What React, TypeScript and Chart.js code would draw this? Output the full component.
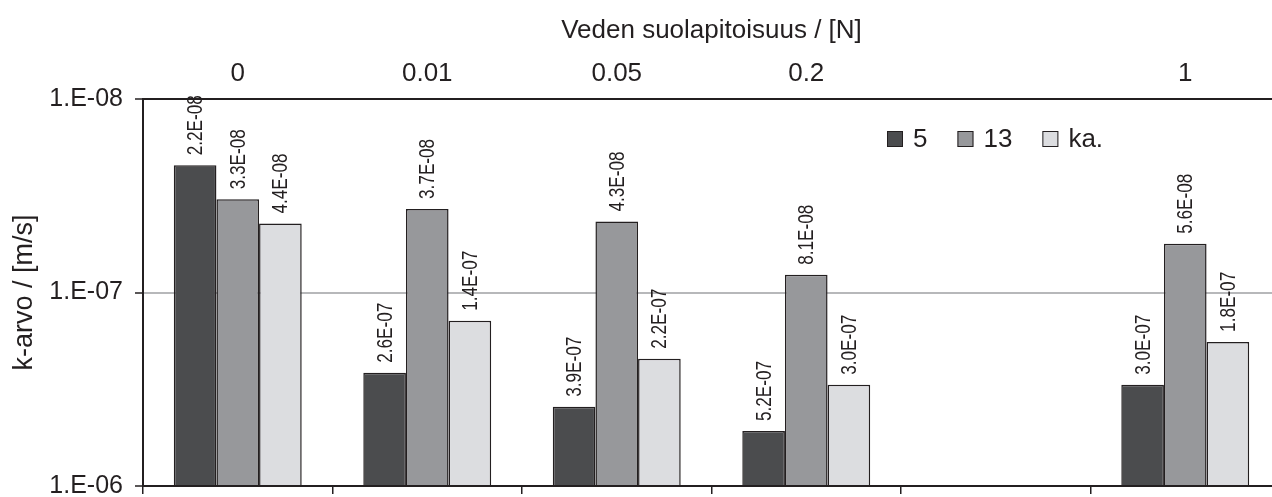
import { useEffect, useRef } from 'react';
import { Chart, registerables } from 'chart.js';

Chart.register(...registerables);

// Salt concentration of the water (N); the fifth slot is an empty gap on the axis
const categories = ['0', '0.01', '0.05', '0.2', '', '1'];
const seriesNames = ['5', '13', 'ka.'];
const values5 = [2.2e-8, 2.6e-7, 3.9e-7, 5.2e-7, null, 3.0e-7];
const values13 = [3.3e-8, 3.7e-8, 4.3e-8, 8.1e-8, null, 5.6e-8];
const valuesKa = [4.4e-8, 1.4e-7, 2.2e-7, 3.0e-7, null, 1.8e-7];
const yTickValues = [1e-8, 1e-7, 1e-6];

const seriesColors = ['#4b4c4e', '#97989b', '#dcdde0'];
const INK = '#231f20';
const FONT = '"Liberation Sans", Arial, Helvetica, sans-serif';

function expPart(e: string) {
  const n = parseInt(e, 10);
  return `${n < 0 ? '-' : '+'}${String(Math.abs(n)).padStart(2, '0')}`;
}

// 2.2E-08 style value labels
function fmtValue(v: number) {
  const [m, e] = v.toExponential(1).split('e');
  return `${m}E${expPart(e)}`;
}

// 1.E-08 style axis labels
function fmtTick(v: number) {
  const [m, e] = v.toExponential(0).split('e');
  return `${m}.E${expPart(e)}`;
}

// Rotated, narrow value labels above each bar
const valueLabels = {
  id: 'valueLabels',
  afterDatasetsDraw(chart: any) {
    const ctx = chart.ctx;
    ctx.save();
    ctx.fillStyle = INK;
    ctx.font = `22px ${FONT}`;
    ctx.textAlign = 'left';
    ctx.textBaseline = 'middle';
    chart.data.datasets.forEach((ds: any, i: number) => {
      const meta = chart.getDatasetMeta(i);
      meta.data.forEach((bar: any, j: number) => {
        const v = ds.data[j];
        if (v == null) return;
        ctx.save();
        ctx.translate(bar.x + 1, bar.y - 10);
        ctx.rotate(-Math.PI / 2);
        ctx.scale(0.78, 1);
        ctx.fillText(fmtValue(v), 0, 0);
        ctx.restore();
      });
    });
    ctx.restore();
  },
};

// Horizontal legend inside the plot area, upper right
const boxLegend = {
  id: 'boxLegend',
  afterDraw(chart: any) {
    const ctx = chart.ctx;
    const area = chart.chartArea;
    let x = area.left + 744;
    const top = area.top + 32;
    const size = 16;
    ctx.save();
    ctx.font = `26px ${FONT}`;
    ctx.textAlign = 'left';
    ctx.textBaseline = 'middle';
    chart.data.datasets.forEach((ds: any) => {
      ctx.fillStyle = ds.backgroundColor;
      ctx.fillRect(x, top, size, size);
      ctx.strokeStyle = INK;
      ctx.lineWidth = 1;
      ctx.strokeRect(x + 0.5, top + 0.5, size - 1, size - 1);
      ctx.fillStyle = INK;
      const tx = x + size + 10;
      ctx.fillText(ds.label, tx, top + size / 2 + 1);
      x = tx + ctx.measureText(ds.label).width + 30;
    });
    ctx.restore();
  },
};

export default function App() {
  const canvasRef = useRef<HTMLCanvasElement | null>(null);

  useEffect(() => {
    document.body.style.margin = '0';
    Chart.defaults.font.family = FONT;
    Chart.defaults.color = INK;

    const seriesValues = [values5, values13, valuesKa];
    const chart = new Chart(canvasRef.current as HTMLCanvasElement, {
      type: 'bar',
      data: {
        labels: categories,
        datasets: seriesNames.map((name, i) => ({
          label: name,
          data: seriesValues[i],
          backgroundColor: seriesColors[i],
          borderColor: INK,
          borderWidth: 1.5,
          base: 1e-6,
          barPercentage: 1,
          categoryPercentage: 0.675,
          xAxisID: 'x',
          yAxisID: 'y',
        })),
      },
      options: {
        animation: false,
        responsive: true,
        maintainAspectRatio: false,
        layout: { padding: { left: 0, right: 10, top: 0, bottom: 0 } },
        plugins: {
          legend: { display: false },
          tooltip: { enabled: false },
        },
        scales: {
          x: {
            type: 'category',
            position: 'top',
            offset: true,
            grid: { display: false },
            border: { display: true, color: INK, width: 2 },
            ticks: { font: { size: 26 }, color: INK, padding: 2, maxRotation: 0, autoSkip: false },
            title: {
              display: true,
              text: 'Veden suolapitoisuus / [N]',
              font: { size: 26 },
              color: INK,
              padding: { top: 15, bottom: 0 },
            },
            afterFit: (s: any) => {
              s.height = 99;
              s.paddingLeft = 0;
              s.paddingRight = 0;
            },
          },
          xb: {
            type: 'category',
            position: 'bottom',
            offset: true,
            grid: { offset: true, drawOnChartArea: false, color: INK, tickLength: 8, lineWidth: 1.5 },
            border: { display: true, color: INK, width: 2 },
            ticks: { display: false },
            afterFit: (s: any) => {
              s.height = 11;
              s.paddingLeft = 0;
              s.paddingRight = 0;
            },
          },
          y: {
            type: 'logarithmic',
            reverse: true,
            min: 1e-8,
            max: 1e-6,
            afterBuildTicks: (s: any) => {
              s.ticks = yTickValues.map((v) => ({ value: v }));
            },
            afterFit: (s: any) => {
              s.width = 143;
              s.paddingTop = 0;
              s.paddingBottom = 0;
            },
            ticks: {
              callback: (v: any) => fmtTick(Number(v)),
              font: { size: 25 },
              color: INK,
              padding: 12,
              autoSkip: false,
            },
            grid: {
              color: (c: any) => (c.tick && c.tick.value === 1e-7 ? '#b7b8ba' : 'rgba(0,0,0,0)'),
              lineWidth: 2,
              tickColor: INK,
              tickLength: 8,
              tickWidth: 1.5,
            },
            border: { display: true, color: INK, width: 2 },
            title: {
              display: true,
              text: 'k-arvo / [m/s]',
              font: { size: 27 },
              color: INK,
              padding: { top: 8, bottom: 0 },
            },
          },
        },
      },
      plugins: [valueLabels, boxLegend],
    } as any);

    return () => chart.destroy();
  }, []);

  return (
    <div style={{ width: 1272, height: 497, overflow: 'hidden', background: '#fff' }}>
      <div style={{ width: 1290, height: 497, position: 'relative' }}>
        <canvas ref={canvasRef} />
      </div>
    </div>
  );
}
